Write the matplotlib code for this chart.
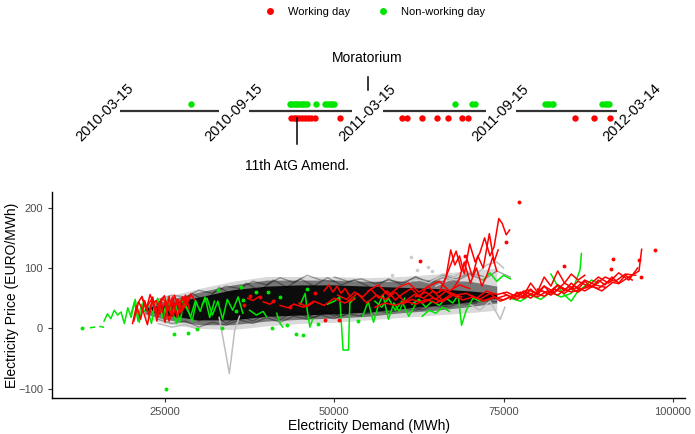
import numpy as np
import pandas as pd
import matplotlib
matplotlib.use('Agg')
import matplotlib.pyplot as plt
from matplotlib.lines import Line2D

plt.rcParams['font.family'] = ['Liberation Sans', 'DejaVu Sans']

RED = '#FF0000'
GREEN = '#00E600'

# ---- timeline data ----
seg_bounds = ['2010-03-15', '2010-09-15', '2011-03-15', '2011-09-15', '2012-03-14']
green_days = ['2010-07-25',
              '2010-11-25', '2010-11-28', '2010-12-01', '2010-12-04', '2010-12-07',
              '2010-12-10', '2010-12-13', '2010-12-16', '2010-12-19', '2010-12-22',
              '2010-12-25', '2011-01-11', '2011-01-27', '2011-01-30', '2011-02-02',
              '2011-02-05', '2011-02-08', '2011-02-11',
              '2011-07-22', '2011-08-21', '2011-08-26',
              '2011-11-06', '2011-11-10', '2011-11-14', '2011-11-18', '2011-11-21',
              '2012-02-17', '2012-02-21', '2012-02-25', '2012-02-29']
red_days = ['2010-11-27', '2010-12-02', '2010-12-07', '2010-12-12', '2010-12-17',
            '2010-12-22', '2010-12-28', '2011-01-02', '2011-01-08', '2011-02-22',
            '2011-04-19', '2011-04-28', '2011-05-24', '2011-06-20', '2011-07-09',
            '2011-08-04', '2011-08-14',
            '2011-12-30', '2012-02-01', '2012-03-01']
amend_day = '2010-12-08'

# ---- scatter/line data: demand in thousand MWh, price in EURO/MWh ----
cloud_d = [22, 25, 30, 35, 40, 45, 50, 55, 60, 65, 70, 74]
outer_lo = [18, 8, 0, -2, 4, 8, 10, 14, 18, 22, 26, 30]
outer_hi = [40, 52, 66, 78, 86, 86, 86, 84, 86, 90, 96, 100]
mid_lo = [24, 15, 6, 6, 12, 15, 17, 20, 26, 30, 36, 42]
mid_hi = [36, 46, 60, 72, 80, 80, 80, 78, 78, 80, 78, 70]
core_lo = [30, 22, 14, 14, 20, 22, 24, 27, 33, 38, 44, 50]
core_hi = [34, 40, 52, 64, 70, 72, 72, 70, 68, 66, 62, 58]

black_lines = [
    ([24, 26, 28, 30, 32, 34, 36, 38, 40, 42, 44, 46, 48, 50],
     [48, 55, 52, 63, 58, 70, 66, 78, 72, 84, 76, 88, 80, 78]),
    ([24, 26, 28, 30, 32, 34, 36, 38, 40, 42, 44, 46, 48, 50, 52, 54],
     [15, 8, 12, 2, 10, 5, 14, 8, 18, 10, 20, 15, 22, 16, 24, 20]),
    ([50, 52, 54, 56, 58, 60, 62, 64, 66, 68, 70, 72],
     [85, 78, 82, 74, 80, 76, 84, 78, 88, 82, 92, 86]),
    ([54, 56, 58, 60, 62, 64, 66, 68, 70, 72, 74],
     [22, 30, 26, 34, 30, 38, 35, 42, 40, 46, 44]),
    ([27, 29, 31, 33, 35, 37, 39, 41, 43, 45, 47, 49, 51, 53, 55],
     [40, 58, 45, 68, 55, 75, 62, 80, 68, 82, 70, 84, 72, 80, 70]),
    ([28, 30, 32, 34, 36, 38, 40, 42, 44, 46, 48, 50, 52],
     [22, 12, 25, 8, 20, 12, 25, 14, 28, 18, 30, 20, 30]),
    ([45, 47, 49, 51, 53, 55, 57, 59, 61, 63, 65, 67, 69, 71],
     [25, 18, 28, 20, 30, 24, 32, 28, 36, 30, 40, 35, 45, 42]),
    ([56, 58, 60, 62, 64, 66, 68, 70, 72, 74, 76],
     [68, 82, 72, 86, 74, 84, 78, 90, 80, 95, 85]),
]
grey_lines = [
    ([33.0, 34.1, 34.5, 35.3, 36.0], [18, -49, -75, -3, 20]),
    ([65.0, 67.0, 69.0, 71.0, 72.5, 74.0, 75.0], [70, 80, 95, 90, 105, 110, 100]),
    ([70.0, 71.5, 73.0, 74.5, 75.2], [40, 30, 45, 15, 35]),
    ([60.0, 62.0, 64.0, 66.0, 68.0], [70, 82, 75, 90, 85]),
    ([24.0, 26.0, 28.0, 30.0], [8, 2, 6, -2]),
]
grey_dots_d = [61.4, 62.2, 63.9, 58.5, 64.5]
grey_dots_p = [119, 97, 102, 88, 95]

green_lines = [
    ([14.0, 14.6], [1, 2]),
    ([15.4, 15.9], [3, 2]),
    ([16.0, 16.5, 17.0, 17.5, 18.0, 18.5, 19.0, 19.5, 20.0, 20.5, 21.0, 21.5, 22.0],
     [12, 24, 16, 30, 22, 27, 8, 34, 18, 44, 12, 40, 28]),
    ([20.0, 20.6, 21.2, 21.8, 22.4, 23.0, 23.6, 24.2, 24.8, 25.4, 26.0, 26.6, 27.2,
      27.8, 28.4, 29.0, 29.6],
     [25, 48, 10, 44, 30, 8, 45, 38, 15, 50, 22, 40, 10, 45, 30, 12, 42]),
    ([22.5, 23.2, 23.9, 24.6, 25.3, 26.0, 26.7, 27.4, 28.1, 28.8, 29.5, 30.2, 30.9,
      31.6, 32.3],
     [40, 25, 50, 18, 44, 30, 8, 48, 35, 20, 46, 28, 52, 18, 45]),
    ([30.5, 31.2, 32.0, 32.8, 33.5, 34.2, 35.0, 35.8, 36.5],
     [40, 50, 22, 45, 15, 48, 30, 52, 25]),
    ([37.5, 38.5, 39.5, 40.0], [30, 22, 28, 19]),
    ([41.5, 42.0, 42.4], [25, 8, 2]),
    ([45.0, 45.7, 46.0, 46.4, 46.8], [40, 58, 30, 2, 15]),
    ([49.0, 50.0, 50.8, 51.3, 52.1, 52.3, 53.0], [40, 45, 52, -36, -36, 42, 50]),
    ([54.2, 55.0, 55.8, 56.5, 57.2, 58.0, 58.8, 59.6, 60.4],
     [20, 45, 10, 38, 55, 15, 42, 28, 50]),
    ([56.0, 57.0, 58.0, 59.0, 60.0, 61.0, 62.0], [45, 35, 50, 30, 45, 20, 40]),
    ([61.5, 62.5, 63.5, 64.5, 65.5, 66.5, 67.5, 68.3, 68.8, 69.5, 70.5, 71.5],
     [40, 48, 35, 45, 38, 50, 42, 55, 5, 30, 50, 45]),
    ([63.0, 64.0, 65.0, 66.0, 67.0], [20, 30, 25, 35, 28]),
    ([72.0, 73.0, 74.0, 75.0, 76.0], [80, 92, 78, 88, 82]),
    ([76.0, 77.5, 79.0, 80.5, 82.0, 83.5, 85.0, 86.3, 86.5],
     [50, 45, 55, 48, 60, 52, 58, 97, 124]),
    ([82.0, 83.0, 84.0, 85.0, 86.0, 87.0, 88.0, 89.0], [90, 70, 55, 45, 62, 70, 80, 75]),
]
green_dots_d = [12.7, 25.15, 32.8, 36.2, 36.5, 26.4, 28.4, 29.7, 33.4, 35.5,
                40.26, 42.0, 40.8, 44.35, 45.4, 47.65, 43.0, 38.5, 46.0, 53.5]
green_dots_p = [0, -100, 63, 68, 47, -9, -8, -1, 0, 28,
                61, 52, 0, -9, -11, 7, 5, 60, 65, 12]

red_lines = [
    ([20.2, 20.8, 21.4, 22.0, 22.6, 23.2, 23.8, 24.4, 25.0, 25.6, 26.2, 26.8, 27.4,
      28.0, 28.6],
     [8, 38, 15, 46, 22, 52, 12, 48, 10, 53, 20, 47, 25, 55, 32]),
    ([21.0, 21.6, 22.2, 22.8, 23.4, 24.0, 24.6, 25.2, 25.8, 26.4, 27.0, 27.6, 28.2,
      28.8, 29.3],
     [42, 53, 30, 56, 38, 20, 50, 42, 24, 55, 35, 52, 44, 57, 48]),
    ([20.4, 21.1, 21.8, 22.4, 23.0, 23.7, 24.3, 25.0, 25.6, 26.3, 26.9, 27.6, 28.3],
     [12, 44, 28, 6, 40, 46, 26, 42, 12, 36, 48, 30, 45]),
    ([21.6, 22.3, 23.0, 23.6, 24.2, 24.9, 25.5, 26.1, 26.8, 27.5, 28.1, 28.8],
     [50, 35, 48, 28, 44, 54, 30, 52, 18, 50, 38, 54]),
    ([37.2, 38.0, 38.8], [50, 46, 52]),
    ([39.5, 40.5, 41.2], [44, 40, 46]),
    ([42.0, 43.2, 44.0], [38, 34, 40]),
    ([44.8, 46.0, 47.0], [42, 36, 44]),
    ([48.5, 49.2, 49.8, 50.4, 51.0, 51.6, 52.2], [62, 72, 60, 70, 58, 66, 55]),
    ([44.0, 45.5, 47.0, 48.5, 50.0, 51.5, 53.0], [40, 35, 45, 38, 50, 42, 48]),
    ([50.5, 51.8, 53.0, 54.2, 55.4, 56.6, 57.8, 59.0, 60.2, 61.4, 62.6, 63.8, 65.0,
      66.2, 67.4],
     [55, 48, 60, 52, 65, 50, 62, 47, 58, 66, 52, 70, 58, 64, 55]),
    ([52.0, 53.4, 54.8, 56.2, 57.6, 59.0, 60.4, 61.8, 63.2, 64.6, 66.0, 67.4, 68.8],
     [45, 58, 42, 55, 48, 60, 44, 56, 50, 62, 46, 58, 52]),
    ([55.0, 56.5, 58.0, 59.5, 61.0, 62.5, 64.0, 65.5, 67.0, 68.5, 70.0],
     [62, 72, 55, 68, 75, 60, 70, 78, 62, 72, 66]),
    ([56.0, 57.5, 59.0, 60.5, 62.0, 63.5, 65.0, 66.5], [35, 42, 38, 45, 40, 48, 42, 50]),
    ([60.0, 61.5, 63.0, 64.5, 66.0, 67.5, 69.0, 70.5, 72.0, 73.5],
     [40, 48, 42, 50, 44, 55, 47, 52, 46, 50]),
    ([62.0, 63.5, 65.0, 66.5, 68.0, 69.5, 71.0, 72.5, 74.0, 75.5, 77.0, 78.5, 80.0],
     [52, 60, 48, 62, 55, 58, 50, 62, 56, 60, 52, 64, 58]),
    ([65.5, 66.5, 67.2, 67.8, 68.5, 69.2, 70.0, 70.8, 71.5, 72.2, 73.0, 73.6, 74.3,
      74.8, 75.4, 75.9],
     [60, 85, 130, 105, 120, 90, 140, 110, 125, 150, 120, 135, 182, 174, 155, 163]),
    ([66.0, 67.0, 68.0, 68.8, 69.6, 70.4, 71.2, 72.0, 72.9, 73.6, 74.2],
     [70, 100, 128, 95, 115, 85, 120, 100, 157, 110, 130]),
    ([67.5, 68.4, 69.2, 70.1, 71.0, 71.8, 72.6, 73.4, 74.0],
     [65, 80, 110, 75, 100, 70, 90, 118, 95]),
    ([70.0, 71.5, 73.0, 74.5, 76.0, 77.5, 79.0, 80.5, 82.0, 83.5, 85.0, 86.5, 88.0,
      89.5, 91.0],
     [55, 48, 58, 45, 52, 60, 50, 63, 55, 68, 60, 65, 70, 62, 75]),
    ([74.0, 75.5, 77.0, 78.5, 80.0, 81.5, 83.0, 84.5, 86.0, 87.5, 89.0, 90.5, 92.0,
      93.5, 95.0, 95.4],
     [50, 55, 48, 58, 52, 62, 55, 68, 60, 72, 66, 78, 74, 85, 95, 131]),
    ([75.0, 76.5, 78.0, 79.5, 81.0, 82.5, 84.0, 85.5, 87.0, 88.5, 90.0, 91.5, 93.0,
      94.5],
     [58, 50, 62, 55, 70, 60, 75, 65, 80, 72, 85, 78, 90, 88]),
    ([72.0, 73.5, 75.0, 76.5, 78.0, 79.5, 81.0, 82.5, 84.0, 85.5, 87.0, 88.5, 90.0],
     [45, 52, 47, 55, 50, 60, 53, 65, 58, 70, 62, 72, 68]),
    ([76.0, 77.0, 78.0, 79.0, 80.0, 81.0, 82.0, 83.0, 84.0, 85.0, 86.0, 87.0, 88.0,
      89.0, 90.0, 91.0, 92.0, 93.0, 94.0],
     [48, 60, 52, 65, 55, 70, 58, 72, 62, 75, 65, 78, 68, 80, 72, 85, 75, 88, 80]),
    ([78.0, 79.0, 80.0, 81.0, 82.0, 83.0, 84.0, 85.0, 86.0, 87.0],
     [55, 75, 60, 85, 70, 95, 75, 90, 80, 88]),
    ([80.0, 81.5, 83.0, 84.5, 86.0, 87.5, 89.0, 90.5, 92.0, 93.5, 94.8],
     [65, 58, 72, 62, 78, 70, 85, 75, 92, 80, 100]),
]
red_dots_d = [77.3, 75.3, 97.4, 91.2, 95.0, 95.3, 90.9, 83.9, 69.3, 62.7,
              39.0, 37.6, 36.6, 47.2, 50.7, 48.6, 41.0, 43.5]
red_dots_p = [210, 143, 130, 115, 113, 85, 98, 103, 120, 112,
              52, 53, 39, 58, 13, 13, 45, 36]

W, H = 695, 434
fig = plt.figure(figsize=(W / 100, H / 100), dpi=100)

# ---- timeline panels ----
bounds = pd.to_datetime(seg_bounds)
gdays = pd.to_datetime(green_days)
rdays = pd.to_datetime(red_days)
px_edges = [105, 234, 367.5, 501, 632]
pad = pd.Timedelta(days=27)
tl_axes = []
for i in range(4):
    x0, x1 = px_edges[i], px_edges[i + 1]
    ax = fig.add_axes([x0 / W, 1 - 180 / H, (x1 - x0) / W, 140 / H])
    s, e = bounds[i], bounds[i + 1]
    ax.set_xlim(s - pad, e + pad)
    ax.set_ylim(-69.3, 70.7)
    ax.axis('off')
    ax.plot([s, e], [0, 0], color='#333333', lw=1.6, solid_capstyle='butt')
    g = gdays[(gdays >= s) & (gdays <= e)]
    r = rdays[(rdays >= s) & (rdays <= e)]
    ax.plot(g, np.full(len(g), 6.7), 'o', color=GREEN, ms=4.6, mec='none')
    ax.plot(r, np.full(len(r), -7.0), 'o', color=RED, ms=4.6, mec='none')
    ax.text(0, -2.3, seg_bounds[i], transform=ax.get_yaxis_transform(),
            rotation=45, ha='center', va='center', fontsize=10.5, clip_on=False)
    tl_axes.append(ax)
tl_axes[-1].text(1, -2.3, seg_bounds[-1], transform=tl_axes[-1].get_yaxis_transform(),
                 rotation=45, ha='center', va='center', fontsize=10.5, clip_on=False)

# 11th AtG amendment
ax2 = tl_axes[1]
am = pd.to_datetime(amend_day)
ax2.plot([am, am], [-7.3, -33.3], color='black', lw=1.1, clip_on=False)
ax2.text(am, -55, '11th AtG Amend.', ha='center', va='center', fontsize=10, clip_on=False)

# Moratorium at the 2011-03-15 break
ax3 = tl_axes[2]
tr = ax3.get_yaxis_transform()
ax3.plot([0, 0], [20.7, 33.7], transform=tr, color='black', lw=1.1, clip_on=False)
ax3.text(0, 52.7, 'Moratorium', transform=tr, ha='center', va='center',
         fontsize=10, clip_on=False)

# ---- main panel ----
ax = fig.add_axes([52 / W, 1 - 398 / H, 633 / W, 206 / H])
cd = np.array(cloud_d) * 1000
ax.fill_between(cd, outer_lo, outer_hi, color='black', alpha=0.15, lw=0)
ax.fill_between(cd, mid_lo, mid_hi, color='black', alpha=0.45, lw=0)
ax.fill_between(cd, core_lo, core_hi, color='black', alpha=0.9, lw=0)
for d, p in black_lines:
    ax.plot(np.array(d) * 1000, p, color='black', lw=1.0, alpha=0.35)
for d, p in grey_lines:
    ax.plot(np.array(d) * 1000, p, color='#BEBEBE', lw=1.1)
ax.plot(np.array(grey_dots_d) * 1000, grey_dots_p, 'o', color='#CCCCCC', ms=2.6, mec='none')
for d, p in green_lines:
    ax.plot(np.array(d) * 1000, p, color=GREEN, lw=1.1)
ax.plot(np.array(green_dots_d) * 1000, green_dots_p, 'o', color=GREEN, ms=2.8, mec='none')
for d, p in red_lines:
    ax.plot(np.array(d) * 1000, p, color=RED, lw=1.1)
ax.plot(np.array(red_dots_d) * 1000, red_dots_p, 'o', color=RED, ms=2.8, mec='none')

ax.set_xlim(8310, 101800)
ax.set_ylim(-115.5, 226)
ax.set_xticks([25000, 50000, 75000, 100000])
ax.set_xticklabels(['25000', '50000', '75000', '100000'])
ax.set_yticks([-100, 0, 100, 200])
for sp in ['top', 'right']:
    ax.spines[sp].set_visible(False)
for sp in ['left', 'bottom']:
    ax.spines[sp].set_linewidth(1.0)
ax.tick_params(length=3, width=0.8, color='#333333', labelcolor='#4D4D4D', labelsize=8)
ax.set_xlabel('Electricity Demand (MWh)', fontsize=10)
ax.set_ylabel('Electricity Price (EURO/MWh)', fontsize=10)
ax.xaxis.set_label_coords(0.5, (398 - 419) / 206)
ax.yaxis.set_label_coords((19 - 52) / 633, 0.5)

# ---- legend ----
handles = [Line2D([], [], marker='o', ls='', color=RED, ms=5, mec='none'),
           Line2D([], [], marker='o', ls='', color=GREEN, ms=5, mec='none')]
fig.legend(handles, ['Working day', 'Non-working day'], loc='center',
           bbox_to_anchor=(372 / W, 1 - 12 / H), ncol=2, frameon=False,
           fontsize=8, handletextpad=0.6, columnspacing=2.0)

fig.savefig('out.png', dpi=100)
